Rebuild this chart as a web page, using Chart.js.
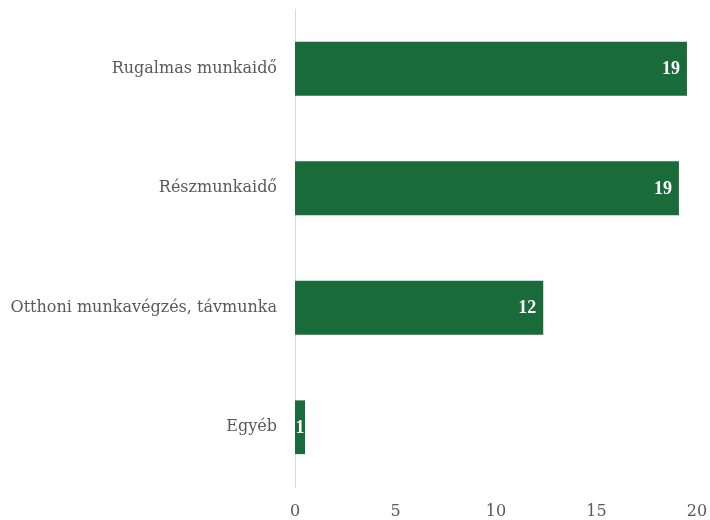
<!DOCTYPE html>
<html>
<head>
<meta charset="utf-8">
<script src="https://cdn.jsdelivr.net/npm/chart.js@4/dist/chart.umd.min.js"></script>
<style>
html,body{margin:0;padding:0;background:#fff;}
#wrap{width:710px;height:520px;position:relative;}
</style>
</head>
<body>
<div id="wrap"><canvas id="c"></canvas></div>
<script>
const categories = ['Rugalmas munkaidő', 'Részmunkaidő', 'Otthoni munkavégzés, távmunka', 'Egyéb'];
const values = [19.5, 19.1, 12.35, 0.5];
const labels = ['19', '19', '12', '1'];
const xTicks = [0, 5, 10, 15, 20];

const FONT = "'DejaVu Serif', 'Liberation Serif', serif";

const barLabels = {
  id: 'barLabels',
  afterDatasetsDraw(chart){
    const ctx = chart.ctx;
    const meta = chart.getDatasetMeta(0);
    ctx.save();
    ctx.fillStyle = '#fff';
    ctx.font = "bold 18px 'Liberation Serif', serif";
    ctx.textBaseline = 'middle';
    meta.data.forEach((bar, i) => {
      const w = bar.x - bar.base;
      if (w < 24) { ctx.textAlign = 'center'; ctx.fillText(labels[i], (bar.x + bar.base) / 2, bar.y + 1); }
      else { ctx.textAlign = 'right'; ctx.fillText(labels[i], bar.x - 7, bar.y + 1); }
    });
    ctx.restore();
  }
};

new Chart(document.getElementById('c'), {
  type: 'bar',
  data: { labels: categories, datasets: [{ data: values, backgroundColor: '#1a6b3a', borderWidth: 0, barPercentage: 0.9, categoryPercentage: 0.5 }] },
  options: {
    indexAxis: 'y',
    responsive: true,
    maintainAspectRatio: false,
    animation: false,
    layout: { padding: { top: 9, right: 13, bottom: 0, left: 0 } },
    plugins: { legend: { display: false }, tooltip: { enabled: false } },
    scales: {
      x: {
        min: 0, max: 20,
        afterBuildTicks: s => { s.ticks = xTicks.map(v => ({ value: v })); },
        grid: { display: false, drawTicks: false },
        border: { display: false },
        ticks: { color: '#595959', font: { family: FONT, size: 16 }, padding: 15 },
        afterFit: s => { s.height = 33; s.paddingLeft = 0; s.paddingRight = 0; }
      },
      y: {
        grid: { display: false, drawTicks: false },
        border: { display: true, color: '#d9d9d9', width: 1 },
        ticks: { color: '#595959', font: { family: FONT, size: 16 }, padding: 18 },
        afterFit: s => { s.width = 295; s.paddingTop = 0; s.paddingBottom = 0; }
      }
    }
  },
  plugins: [barLabels]
});
</script>
</body>
</html>
